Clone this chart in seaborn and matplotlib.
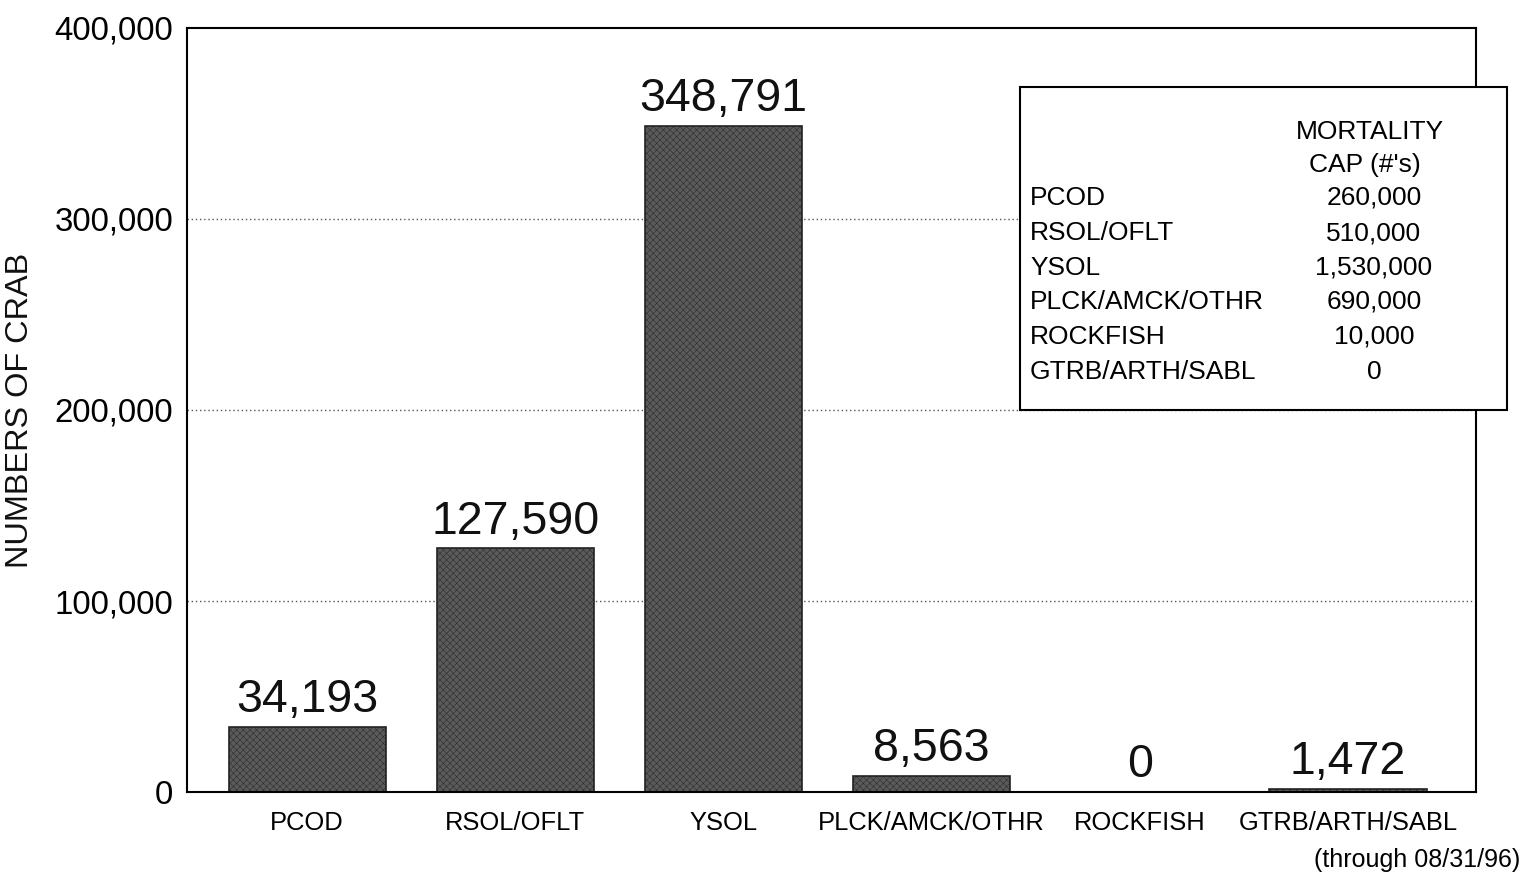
import matplotlib
matplotlib.use("Agg")
import matplotlib.pyplot as plt
from matplotlib.patches import Rectangle
import seaborn as sns
import pandas as pd

categories = ["PCOD", "RSOL/OFLT", "YSOL", "PLCK/AMCK/OTHR", "ROCKFISH", "GTRB/ARTH/SABL"]
counts = [34193, 127590, 348791, 8563, 0, 1472]
cap_labels = ["PCOD", "RSOL/OFLT", "YSOL", "PLCK/AMCK/OTHR", "ROCKFISH", "GTRB/ARTH/SABL"]
cap_values = ["260,000", "510,000", "1,530,000", "690,000", "10,000", "0"]
y_ticks = [0, 100000, 200000, 300000, 400000]

sns.set_style("white")
plt.rcParams["font.family"] = ["Liberation Sans", "DejaVu Sans"]
plt.rcParams["hatch.linewidth"] = 0.3
plt.rcParams["text.color"] = "black"
plt.rcParams["axes.labelcolor"] = "black"
plt.rcParams["xtick.color"] = "black"
plt.rcParams["ytick.color"] = "black"

W, H = 1527, 874
fig = plt.figure(figsize=(W / 100, H / 100), dpi=100)
ax = fig.add_axes([187 / W, 1 - 792 / H, (1476 - 187) / W, (792 - 28) / H])

df = pd.DataFrame({"cat": categories, "n": counts})
sns.barplot(data=df, x="cat", y="n", ax=ax, color="#5a5a5a", width=0.755,
            edgecolor="black", linewidth=1.2, saturation=1)
for p in ax.patches:
    p.set_hatch("xxxxx")
    p.set_edgecolor("#222222")

for i, v in enumerate(counts):
    ax.text(i, v + 2500, f"{v:,}", ha="center", va="bottom", fontsize=33.5, color="#111111")

ax.set_ylim(0, 400000)
ax.set_xlim(-0.577, 5.615)
ax.set_yticks(y_ticks)
ax.set_yticklabels([f"{t:,}" for t in y_ticks], fontsize=23.8)
ax.tick_params(axis="y", length=0, pad=10, labelcolor="black")
ax.tick_params(axis="x", length=0, pad=14, labelsize=18.4, labelcolor="black")
ax.set_xlabel("")
ax.set_ylabel("NUMBERS OF CRAB", fontsize=23.4, labelpad=14, color="#111111")
for y in y_ticks[1:-1]:
    ax.axhline(y, color="#555555", linestyle=(0, (1, 2)), linewidth=1.0, zorder=0)
for s in ax.spines.values():
    s.set_color("black")
    s.set_linewidth(1.5)
    s.set_visible(True)

# cap table box
fig.add_artist(Rectangle((1020 / W, 1 - 410 / H), 487 / W, 323 / H,
                         transform=fig.transFigure, facecolor="white",
                         edgecolor="black", linewidth=1.5, zorder=5))
fs = 19
fig.text(1370 / W, 1 - 132 / H, "MORTALITY", ha="center", va="center", fontsize=fs, zorder=6)
fig.text(1365 / W, 1 - 165 / H, "CAP (#'s)", ha="center", va="center", fontsize=fs, zorder=6)
row_y = [198, 233, 268, 302, 337, 372]
for lab, val, yy in zip(cap_labels, cap_values, row_y):
    fig.text(1030 / W, 1 - yy / H, lab, ha="left", va="center", fontsize=fs, zorder=6)
    fig.text(1374 / W, 1 - yy / H, val, ha="center", va="center", fontsize=fs, zorder=6)

fig.text(1520 / W, 1 - 860 / H, "(through 08/31/96)", ha="right", va="center", fontsize=18)

fig.savefig("out.png", dpi=100)
